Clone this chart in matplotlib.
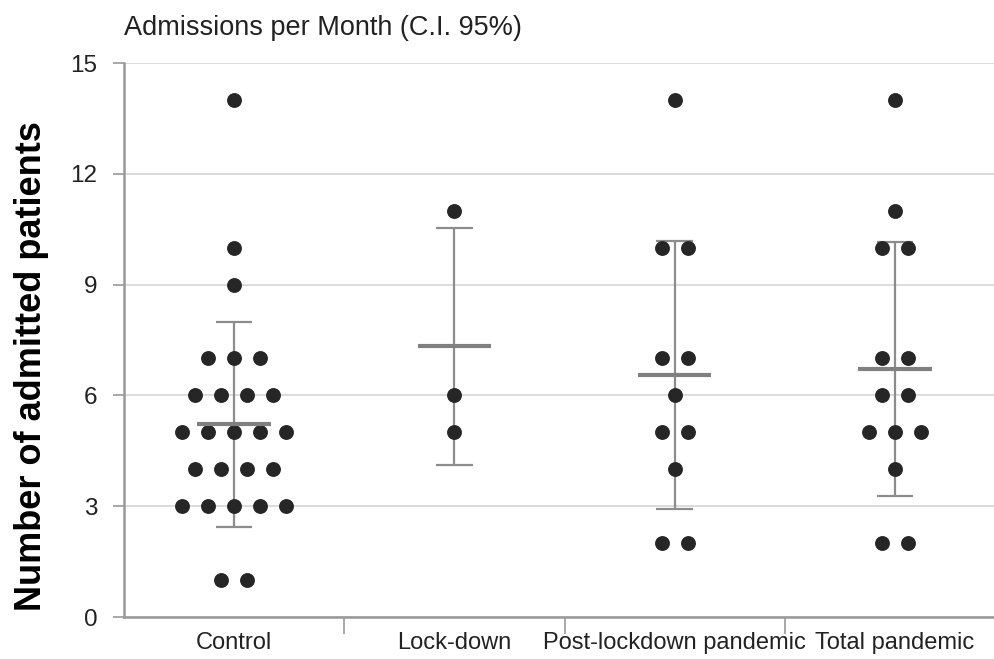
import matplotlib
matplotlib.use("Agg")
import matplotlib.pyplot as plt
import numpy as np

plt.rcParams['font.family'] = ['Liberation Sans', 'DejaVu Sans']

categories = ["Control", "Lock-down", "Post-lockdown pandemic", "Total pandemic"]
control = [14, 10, 9, 7, 7, 7, 6, 6, 6, 6, 5, 5, 5, 5, 5, 4, 4, 4, 4, 3, 3, 3, 3, 3, 1, 1]
lockdown = [11, 6, 5]
post_lockdown = [14, 10, 10, 7, 7, 6, 5, 5, 4, 2, 2]
total_pandemic = [14, 11, 10, 10, 7, 7, 6, 6, 5, 5, 5, 4, 2, 2]
groups = [control, lockdown, post_lockdown, total_pandemic]
means = [5.23, 7.33, 6.55, 6.71]
ci_low = [2.45, 4.12, 2.92, 3.27]
ci_high = [8.0, 10.52, 10.18, 10.15]
yticks = [0, 3, 6, 9, 12, 15]

fig = plt.figure(figsize=(9.94, 6.59), dpi=100)
ax = fig.add_axes([124/994, 1-617/659, (1005-124)/994, 554/659])

spacing = 26/220  # horizontal spacing of dots (data units)
for i, vals in enumerate(groups):
    vals = np.array(vals)
    for v in np.unique(vals):
        n = int((vals == v).sum())
        offs = (np.arange(n) - (n-1)/2) * spacing
        ax.scatter(i + offs, [v]*n, s=115, color='#262626', zorder=4, linewidths=0)
    ax.errorbar([i], [means[i]], yerr=[[means[i]-ci_low[i]], [ci_high[i]-means[i]]],
                fmt='none', ecolor='#8c8c8c', elinewidth=1.6, capsize=0, zorder=3)
    ax.hlines([ci_low[i], ci_high[i]], i-0.083, i+0.083, color='#8c8c8c', lw=1.6, zorder=3)
    ax.hlines(means[i], i-0.167, i+0.167, color='#808080', lw=3.0, zorder=5)

ax.set_xlim(-0.5, 3.5)
ax.set_ylim(0, 15)
ax.set_yticks(yticks)
ax.set_yticklabels([str(t) for t in yticks], fontsize=17.5, color='#222222')
ax.set_xticks([0.5, 1.5, 2.5], minor=False)
ax.set_xticklabels([])
ax.set_xticks(range(4), minor=True)
ax.set_xticklabels(categories, minor=True, fontsize=17, color='#222222')
ax.tick_params(axis='x', which='major', length=12, color='#999999', width=1.2)
ax.tick_params(axis='x', which='minor', length=0, pad=11)
ax.tick_params(axis='y', length=8, color='#999999', width=1.2, pad=11)
ax.grid(axis='y', color='#d9d9d9', lw=1.3, zorder=0)
ax.set_axisbelow(True)
for s in ['top', 'right']:
    ax.spines[s].set_visible(False)
for s in ['left', 'bottom']:
    ax.spines[s].set_color('#999999')
    ax.spines[s].set_linewidth(1.8)

fig.text(124/994, 1-28/659, "Admissions per Month (C.I. 95%)", fontsize=19.5, color='#222222',
         va='center', ha='left')
fig.text(32/994, 1-366/659, "Number of admitted patients", fontsize=26, fontweight='bold',
         rotation=90, va='center', ha='center', color='black')

fig.savefig("out.png", dpi=100)
